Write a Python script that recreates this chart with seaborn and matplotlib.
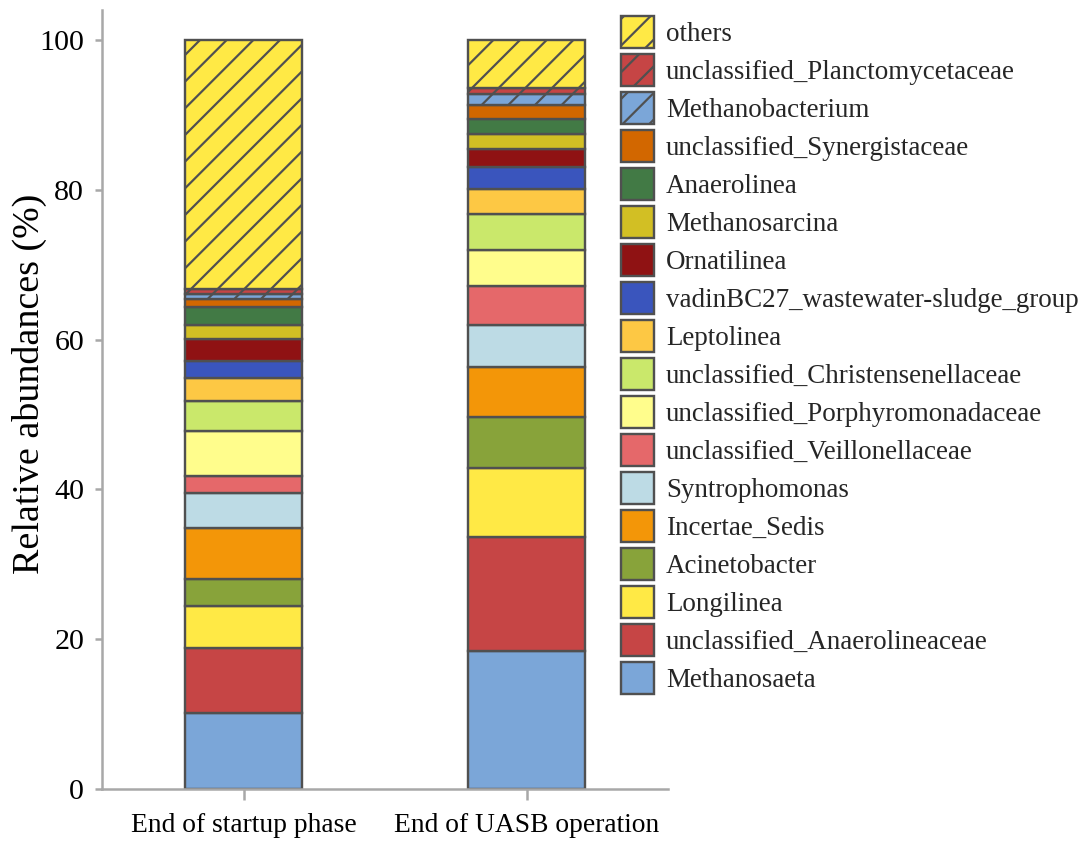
import matplotlib
matplotlib.use("Agg")
import matplotlib.pyplot as plt
import seaborn as sns
import pandas as pd
import numpy as np

# Sample stages
stages = ["End of startup phase", "End of UASB operation"]

# Taxa, stacked from the bottom upwards
taxa = [
    "Methanosaeta",
    "unclassified_Anaerolineaceae",
    "Longilinea",
    "Acinetobacter",
    "Incertae_Sedis",
    "Syntrophomonas",
    "unclassified_Veillonellaceae",
    "unclassified_Porphyromonadaceae",
    "unclassified_Christensenellaceae",
    "Leptolinea",
    "vadinBC27_wastewater-sludge_group",
    "Ornatilinea",
    "Methanosarcina",
    "Anaerolinea",
    "unclassified_Synergistaceae",
    "Methanobacterium",
    "unclassified_Planctomycetaceae",
    "others",
]

# Relative abundances (%) for each stage
startup = [10.1, 8.7, 5.6, 3.6, 6.8, 4.7, 2.3, 6.0, 4.0, 3.1,
           2.3, 2.9, 1.9, 2.3, 1.1, 0.7, 0.6, 33.3]
uasb = [18.4, 15.2, 9.2, 6.8, 6.7, 5.6, 5.2, 4.9, 4.8, 3.3,
        2.9, 2.4, 2.1, 1.9, 1.9, 1.5, 0.8, 6.4]

colors = [
    "#7BA6D8", "#C64545", "#FFE945", "#88A33A", "#F39608", "#BDDBE5",
    "#E5686A", "#FFFD8C", "#CAE86B", "#FDC844", "#3A55BD", "#8F1213",
    "#D2BF24", "#427A45", "#D26700", "#7BA6D8", "#C64545", "#FFE945",
]
hatches = [""] * 15 + ["//", "//", "//"]

DPI = 160
W, H = 1091, 841


def pt(px):
    return px * 72.0 / DPI


sns.set_theme(style="white")
plt.rcParams["font.family"] = ["Liberation Serif", "DejaVu Serif"]
plt.rcParams["hatch.linewidth"] = pt(2.2)
plt.rcParams["hatch.color"] = "#4F4F4F"

fig = plt.figure(figsize=(W / DPI, H / DPI), dpi=DPI)
ax = fig.add_axes([102 / W, (H - 789) / H, (668 - 102) / W, (789 - 10) / H])

df = pd.DataFrame({"stage": np.repeat(stages, len(taxa)),
                   "taxon": taxa * 2,
                   "value": startup + uasb})

bottom = np.zeros(len(stages))
handles = []
for taxon, col, hat in zip(taxa, colors, hatches):
    sub = df[df["taxon"] == taxon]
    sns.barplot(data=sub, x="stage", y="value", order=stages, ax=ax,
                color=col, saturation=1, width=0.41, errorbar=None,
                bottom=bottom, edgecolor="#505050", linewidth=pt(2.4),
                hatch=hat, label=taxon)
    handles.append(ax.containers[-1].patches[0])
    bottom = bottom + sub["value"].to_numpy()

if ax.get_legend() is not None:
    ax.get_legend().remove()

ax.set_xlim(-0.5, 1.5)
ax.set_ylim(0, 104)
ax.set_yticks([0, 20, 40, 60, 80, 100])
ax.set_xlabel("")
ax.set_ylabel("Relative abundances (%)", fontsize=pt(38), color="black")
ax.yaxis.set_label_coords(-0.097, 0.52)

for side in ["top", "right"]:
    ax.spines[side].set_visible(False)
for side in ["left", "bottom"]:
    ax.spines[side].set_color("#A8A8A8")
    ax.spines[side].set_linewidth(pt(2.5))

ax.tick_params(axis="y", which="major", left=True, direction="out",
               length=pt(7), width=pt(2.5), color="#A8A8A8",
               labelsize=pt(30), labelcolor="black", pad=pt(11))
ax.tick_params(axis="x", which="major", bottom=True, direction="out",
               length=pt(11), width=pt(2.5), color="#A8A8A8",
               labelsize=pt(27.5), labelcolor="black", pad=pt(13))

leg = fig.legend(handles[::-1], taxa[::-1], loc="upper left",
                 bbox_to_anchor=(621 / W, 1 - 16 / H), frameon=False,
                 fontsize=pt(27), handlelength=1.22, handleheight=1.45,
                 handletextpad=0.44, labelspacing=0.22, borderpad=0,
                 borderaxespad=0)

fig.savefig("out.png", dpi=DPI, facecolor="white")
